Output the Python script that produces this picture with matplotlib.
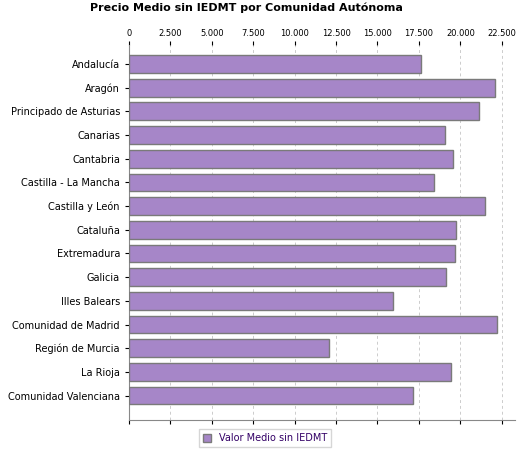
import matplotlib
matplotlib.use("Agg")
import matplotlib.pyplot as plt
from matplotlib.ticker import FuncFormatter

regions = ["Andalucía", "Aragón", "Principado de Asturias", "Canarias", "Cantabria",
           "Castilla - La Mancha", "Castilla y León", "Cataluña", "Extremadura", "Galicia",
           "Illes Balears", "Comunidad de Madrid", "Región de Murcia", "La Rioja",
           "Comunidad Valenciana"]
values = [17600, 22080, 21120, 19080, 19580, 18440, 21490, 19760, 19700, 19150,
          15940, 22200, 12100, 19460, 17160]
series_name = "Valor Medio sin IEDMT"

fig = plt.figure(figsize=(5.25, 4.5), dpi=100)
ax = fig.add_axes([129/525, 1-420/450, (515-129)/525, (420-45)/450])
y = list(range(len(regions)))
ax.barh(y, values, height=0.75, color="#a686c8", edgecolor="#7a7a7a", linewidth=1, label=series_name, zorder=3)
ax.set_yticks(y)
ax.set_yticklabels(regions, fontsize=7)
ax.set_ylim(len(regions) - 1 + 1.03, -0.8)
ax.set_xlim(0, 23300)
ticks = list(range(0, 22501, 2500))
ax.set_xticks(ticks)
ax.xaxis.set_major_formatter(FuncFormatter(lambda v, p: f"{int(v):,}".replace(",", ".")))
ax.tick_params(axis="x", labelsize=6, top=True, labeltop=True, bottom=True, labelbottom=False, length=3, pad=2)
ax.tick_params(axis="y", length=3)
ax.grid(axis="x", linestyle=(0, (3, 3)), color="#cccccc", linewidth=0.7, zorder=0)
ax.spines["right"].set_visible(False)
ax.spines["top"].set_visible(False)
ax.spines["left"].set_color("#888888")
ax.spines["bottom"].set_color("#888888")
fig.text(0.47, 0.995, "Precio Medio sin IEDMT por Comunidad Autónoma", ha="center", va="top",
         fontsize=8, fontweight="bold")
leg = fig.legend(loc="center", bbox_to_anchor=(265/525, 1-438/450), fontsize=7, frameon=True,
                 fancybox=False, edgecolor="#cccccc", handlelength=0.9, handleheight=0.9)
for t in leg.get_texts():
    t.set_color("#330066")
fig.savefig("out.png", dpi=100)
